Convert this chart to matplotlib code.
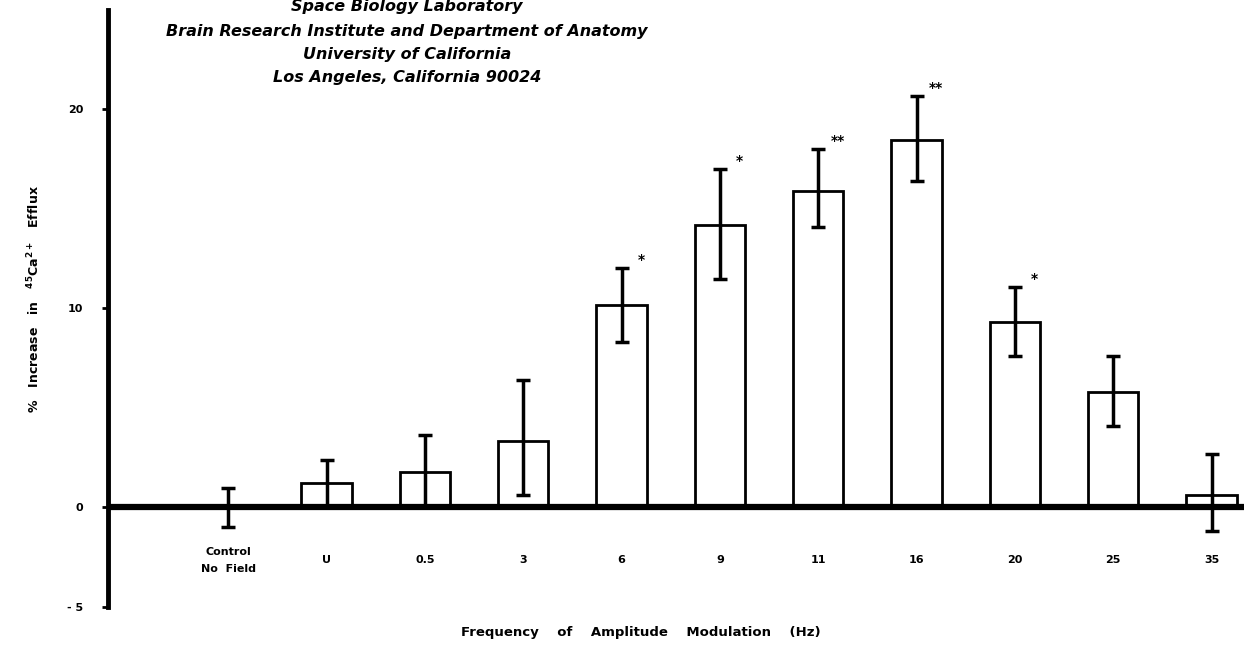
import matplotlib
matplotlib.use("Agg")
import matplotlib.pyplot as plt
import numpy as np

categories = ["Control\nNo  Field", "U", "0.5", "3", "6", "9", "11", "16", "20", "25", "35"]
values = [0.0, 1.25, 1.8, 3.35, 10.15, 14.2, 15.9, 18.45, 9.3, 5.8, 0.6]
err_upper = [1.0, 1.15, 1.85, 3.05, 1.9, 2.8, 2.1, 2.25, 1.8, 1.8, 2.1]
err_lower = [1.0, 1.25, 1.8, 2.75, 1.85, 2.7, 1.8, 2.05, 1.7, 1.7, 1.8]
stars = ["", "", "", "", "*", "*", "**", "**", "*", "", ""]
yticks = [20, 10, 0, -5]
ytick_labels = ["20", "10", "0", "- 5"]
header = ["Space Biology Laboratory",
          "Brain Research Institute and Department of Anatomy",
          "University of California",
          "Los Angeles, California 90024"]

fig = plt.figure(figsize=(12.44, 6.64), dpi=100)
ax = fig.add_axes([0.087, 0.086, 0.913, 0.899])
x = np.arange(len(categories))

ax.bar(x[1:], values[1:], width=0.51, color="white", edgecolor="black", linewidth=2.0, zorder=2)
ax.errorbar(x, values, yerr=[err_lower, err_upper], fmt="none", ecolor="black",
            elinewidth=2.5, capsize=5, capthick=2.5, zorder=3)
ax.axhline(0, color="black", linewidth=4.5, zorder=4)

for xi, v, eu, s in zip(x, values, err_upper, stars):
    if s:
        ax.text(xi + 0.2, v + eu + 0.05, s, ha="center", va="bottom", fontsize=10,
                fontweight="bold", color="black")

ax.set_xlim(-1.22, 10.33)
ax.set_ylim(-5, 25)
for sp in ["top", "right", "bottom"]:
    ax.spines[sp].set_visible(False)
ax.spines["left"].set_linewidth(3.5)
ax.set_xticks([])
ax.set_yticks(yticks)
ax.set_yticklabels(ytick_labels, fontsize=8, fontweight="bold")
ax.tick_params(axis="y", direction="out", length=4, width=2, pad=14)

for xi, c in zip(x, categories):
    ax.text(xi, -2.65, c, ha="center", va="center", fontsize=8, fontweight="bold",
            linespacing=1.9)

ax.set_ylabel(r"%   Increase   in   $^{\mathbf{45}}\mathbf{Ca}^{\mathbf{2+}}$   Efflux",
              fontsize=9, fontweight="bold")
ax.yaxis.set_label_coords(-0.058, 0.515)

fig.text(0.515, 0.047, "Frequency    of    Amplitude    Modulation    (Hz)",
         ha="center", va="center", fontsize=9.5, fontweight="bold")

ys = [0.99, 0.953, 0.918, 0.883]
for t, yy in zip(header, ys):
    fig.text(0.327, yy, t, ha="center", va="center", fontsize=11.5, fontstyle="italic",
             fontweight="bold")

fig.savefig("out.png", dpi=100)
